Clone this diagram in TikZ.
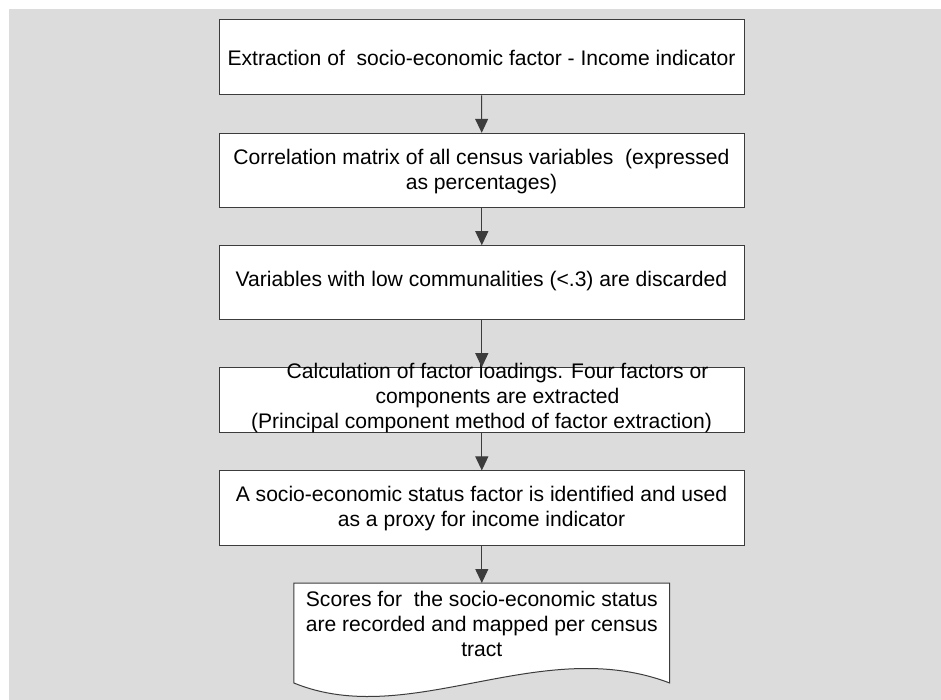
\documentclass[tikz,border=0pt]{standalone}
\usepackage{fontspec}
\setmainfont{Liberation Sans}
\usetikzlibrary{arrows.meta}
\definecolor{panelgray}{RGB}{220,220,220}
\definecolor{edgegray}{RGB}{60,60,60}
\begin{document}
\begin{tikzpicture}[x=0.5pt,y=-0.5pt,
  stepbox/.style={draw=edgegray, fill=white, line width=0.5pt, inner sep=0pt,
    minimum width=262.5pt},
  doc/.style={draw=none, inner sep=0pt, minimum width=187.5pt, minimum height=49.6pt},
  label/.style={align=center, anchor=base, inner sep=0pt,
    font=\fontsize{10.55pt}{12.5pt}\selectfont},
  flow/.style={draw=edgegray, line width=0.5pt, -{Triangle[length=7pt,width=6.5pt]}}]
  % canvas and grey panel
  \useasboundingbox (0,0) rectangle (941,700);
  \fill[white] (0,0) rectangle (941,700);
  \fill[panelgray] (9,9) rectangle (941,700);

  % process boxes
  \node[stepbox, minimum height=37.5pt]  (b1) at (481.5,57.5)  {};
  \node[stepbox, minimum height=37.2pt]  (b2) at (481.8,170.5) {};
  \node[stepbox, minimum height=36.8pt]  (b3) at (481.8,282.5) {};
  \node[stepbox, minimum height=32.5pt]  (b4) at (481.8,400.2) {};
  \node[stepbox, minimum height=37.35pt] (b5) at (481.8,508.3) {};

  % document shape with wavy bottom edge
  \node[doc] (b6) at (481.8,633) {};
  \draw[draw=edgegray, fill=white, line width=0.5pt]
    (b6.north west) -- (b6.north east) -- (b6.south east)
    .. controls (540,633.5) and (410,730.5) .. (b6.south west) -- cycle;

  % texts (multi-line labels are placed by the baseline of their last line)
  \node[label] (t1) at (481.5,65.7) {Extraction of \ socio-economic factor - Income indicator};
  \node[label] (t2) at (481.5,189.3) {Correlation matrix of all census variables \ (expressed\\as percentages)};
  \node[label] (t3) at (481.5,286.7) {Variables with low communalities (<.3) are discarded};
  \node[label] (t4) at (481.5,428.3) {\hspace*{16pt}Calculation of factor loadings. Four factors or\\\hspace*{16pt}components are extracted\\(Principal component method of factor extraction)};
  \node[label] (t5) at (481.5,526.7) {A socio-economic status factor is identified and used\\as a proxy for income indicator};
  \node[label] (t6) at (481.8,656.7) {Scores for \ the socio-economic status\\are recorded and mapped per census\\tract};

  % connectors
  \draw[flow] (b1) -- (b2);
  \draw[flow] (b2) -- (b3);
  \draw[flow] (b3) -- (b4);
  \draw[flow] (b4) -- (b5);
  \draw[flow] (b5) -- (b6);
\end{tikzpicture}
\end{document}
